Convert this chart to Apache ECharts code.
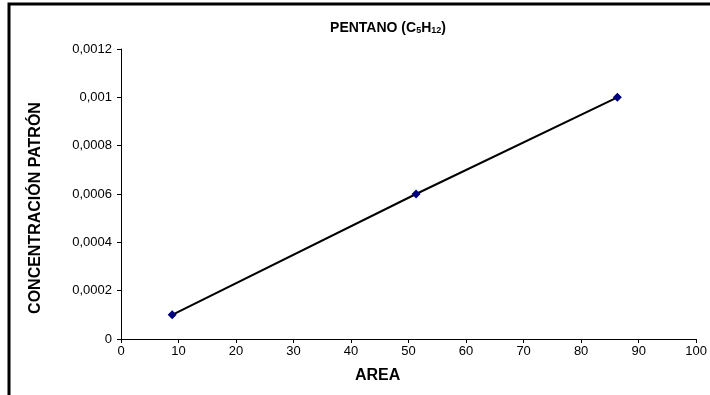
<!DOCTYPE html>
<html>
<head>
<meta charset="utf-8">
<script src="https://cdn.jsdelivr.net/npm/echarts@6/dist/echarts.min.js"></script>
<style>html,body{margin:0;padding:0;background:#fff}#c{width:710px;height:395px}</style>
</head>
<body>
<div id="c"></div>
<script>
const areaValues = [8.9, 51.3, 86.3];
const concValues = [0.0001, 0.0006, 0.001];
const xTicks = [0, 10, 20, 30, 40, 50, 60, 70, 80, 90, 100];
const yTickLabels = ['0', '0,0002', '0,0004', '0,0006', '0,0008', '0,001', '0,0012'];
const titleText = '{b|PENTANO (C}{s|5}{b|H}{s|12}{b|)}';
const xName = 'AREA';
const yName = 'CONCENTRACIÓN PATRÓN';

const chart = echarts.init(document.getElementById('c'), null, {renderer: 'canvas'});
const font = 'Liberation Sans, Arial, sans-serif';
chart.setOption({
  animation: false,
  backgroundColor: '#fff',
  graphic: [{
    type: 'rect', z: 100, silent: true,
    shape: {x: 9, y: 4, width: 720, height: 420},
    style: {fill: 'none', stroke: '#000', lineWidth: 3}
  }],
  title: {
    text: titleText, left: 383, top: 12, textAlign: 'center',
    textStyle: {
      rich: {
        b: {fontFamily: font, fontSize: 14, fontWeight: 'bold', color: '#000', lineHeight: 18, verticalAlign: 'bottom'},
        s: {fontFamily: font, fontSize: 9, fontWeight: 'bold', color: '#000', lineHeight: 18, verticalAlign: 'bottom', padding: [5, 0, 0, 0]}
      }
    }
  },
  grid: {left: 121, right: 13, top: 49, bottom: 56, containLabel: false},
  xAxis: {
    type: 'value', min: 0, max: 100, interval: 10,
    name: xName, nameLocation: 'middle', nameGap: 29,
    nameTextStyle: {fontFamily: font, fontSize: 16, fontWeight: 'bold', color: '#000', padding: [0, 62, 0, 0]},
    axisLine: {onZero: false, lineStyle: {color: '#000', width: 1}},
    axisTick: {show: true, length: 4, lineStyle: {color: '#000'}},
    axisLabel: {fontFamily: font, fontSize: 13, color: '#000', margin: 6,
      formatter: v => xTicks.includes(v) ? String(v) : ''},
    splitLine: {show: false}
  },
  yAxis: {
    type: 'value', min: 0, max: 0.0012, interval: 0.0002,
    name: yName, nameLocation: 'middle', nameGap: 77, nameRotate: 90,
    nameTextStyle: {fontFamily: font, fontSize: 16, fontWeight: 'bold', color: '#000', padding: [0, 28, 0, 0]},
    axisLine: {show: true, lineStyle: {color: '#000', width: 1}},
    axisTick: {show: true, length: 4, lineStyle: {color: '#000'}},
    axisLabel: {fontFamily: font, fontSize: 13, color: '#000', margin: 9,
      formatter: v => yTickLabels[Math.round(v / 0.0002)]},
    splitLine: {show: false}
  },
  series: [{
    type: 'line',
    data: areaValues.map((x, i) => [x, concValues[i]]),
    symbol: 'diamond', symbolSize: 9,
    itemStyle: {color: '#000080'},
    lineStyle: {color: '#000', width: 2},
    z: 3
  }]
});
</script>
</body>
</html>
